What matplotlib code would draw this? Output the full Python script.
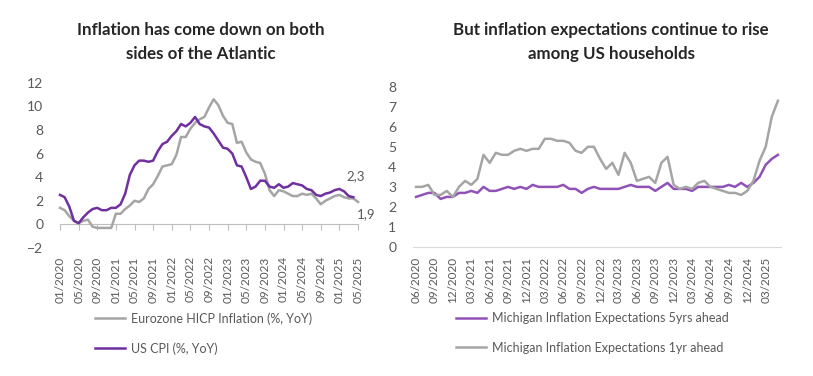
import matplotlib.pyplot as plt

plt.rcParams['font.family'] = ['Lato', 'DejaVu Sans']

# Left chart: monthly, 01/2020 .. 05/2025
eurozone_hicp = [
    1.4, 1.2, 0.7, 0.3, 0.1, 0.3, 0.4, -0.2, -0.3, -0.3, -0.3, -0.3,
    0.9, 0.9, 1.3, 1.6, 2.0, 1.9, 2.2, 3.0, 3.4, 4.1, 4.9, 5.0,
    5.1, 5.9, 7.4, 7.4, 8.1, 8.6, 8.9, 9.1, 9.9, 10.6, 10.1, 9.2,
    8.6, 8.5, 6.9, 7.0, 6.1, 5.5, 5.3, 5.2, 4.3, 2.9, 2.4, 2.9,
    2.8, 2.6, 2.4, 2.4, 2.6, 2.5, 2.6, 2.2, 1.7, 2.0, 2.2, 2.4,
    2.5, 2.3, 2.2, 2.2, 1.9,
]
us_cpi = [
    2.5, 2.3, 1.5, 0.3, 0.1, 0.6, 1.0, 1.3, 1.4, 1.2, 1.2, 1.4,
    1.4, 1.7, 2.6, 4.2, 5.0, 5.4, 5.4, 5.3, 5.4, 6.2, 6.8, 7.0,
    7.5, 7.9, 8.5, 8.3, 8.6, 9.1, 8.5, 8.3, 8.2, 7.7, 7.1, 6.5,
    6.4, 6.0, 5.0, 4.9, 4.0, 3.0, 3.2, 3.7, 3.7, 3.2, 3.1, 3.4,
    3.1, 3.2, 3.5, 3.4, 3.3, 3.0, 2.9, 2.5, 2.4, 2.6, 2.7, 2.9,
    3.0, 2.8, 2.4, 2.3,
]
left_ticks = ["01/2020", "05/2020", "09/2020", "01/2021", "05/2021", "09/2021",
              "01/2022", "05/2022", "09/2022", "01/2023", "05/2023", "09/2023",
              "01/2024", "05/2024", "09/2024", "01/2025", "05/2025"]

# Right chart: monthly, 06/2020 .. 05/2025
mich_5yr = [
    2.5, 2.6, 2.7, 2.7, 2.4, 2.5, 2.5,
    2.7, 2.7, 2.8, 2.7, 3.0, 2.8, 2.8, 2.9, 3.0, 2.9, 3.0, 2.9,
    3.1, 3.0, 3.0, 3.0, 3.0, 3.1, 2.9, 2.9, 2.7, 2.9, 3.0, 2.9,
    2.9, 2.9, 2.9, 3.0, 3.1, 3.0, 3.0, 3.0, 2.8, 3.0, 3.2, 2.9,
    2.9, 2.9, 2.8, 3.0, 3.0, 3.0, 3.0, 3.0, 3.1, 3.0, 3.2, 3.0,
    3.2, 3.5, 4.1, 4.4, 4.6,
]
mich_1yr = [
    3.0, 3.0, 3.1, 2.6, 2.6, 2.8, 2.5,
    3.0, 3.3, 3.1, 3.4, 4.6, 4.2, 4.7, 4.6, 4.6, 4.8, 4.9, 4.8,
    4.9, 4.9, 5.4, 5.4, 5.3, 5.3, 5.2, 4.8, 4.7, 5.0, 5.0, 4.4,
    3.9, 4.2, 3.6, 4.7, 4.2, 3.3, 3.4, 3.5, 3.2, 4.2, 4.5, 3.1,
    2.9, 3.0, 2.9, 3.2, 3.3, 3.0, 2.9, 2.8, 2.7, 2.7, 2.6, 2.8,
    3.3, 4.3, 5.0, 6.5, 7.3,
]
right_ticks = ["06/2020", "09/2020", "12/2020", "03/2021", "06/2021", "09/2021",
               "12/2021", "03/2022", "06/2022", "09/2022", "12/2022", "03/2023",
               "06/2023", "09/2023", "12/2023", "03/2024", "06/2024", "09/2024",
               "12/2024", "03/2025"]

GRAY = '#A5A5A5'
TXT = '#595959'
W, H = 813, 376

fig = plt.figure(figsize=(8.13, 3.76), dpi=100)

# ---- left chart
ax1 = fig.add_axes([60 / W, 1 - 248 / H, 298 / W, 165.3 / H])
ax1.plot(range(len(eurozone_hicp)), eurozone_hicp, color=GRAY, lw=1.8,
         label='Eurozone HICP Inflation (%, YoY)', clip_on=False)
ax1.plot(range(len(us_cpi)), us_cpi, color='#7030A0', lw=1.8,
         label='US CPI (%, YoY)', clip_on=False)
ax1.set_xlim(0, 64)
ax1.set_ylim(-2, 12)
ax1.set_yticks(range(-2, 13, 2))
ax1.set_xticks(range(0, 65, 4))
ax1.set_xticklabels(left_ticks, rotation=90)
ax1.tick_params(axis='x', length=0, pad=6, labelsize=8.5, labelcolor=TXT)
ax1.tick_params(axis='y', length=0, pad=12, labelsize=10, labelcolor=TXT)
for s in ax1.spines.values():
    s.set_visible(False)
zero_axis = ax1.secondary_xaxis(2 / 14)
zero_axis.set_xticks(range(0, 65, 4))
zero_axis.set_xticklabels([])
zero_axis.tick_params(length=4, color='#BFBFBF', width=0.8)
zero_axis.spines['bottom'].set_color('#BFBFBF')
ax1.annotate('2,3', (len(us_cpi) - 1, us_cpi[-1]), xytext=(-5, 12),
             textcoords='offset points', color=TXT, fontsize=9.5)
ax1.annotate('1,9', (len(eurozone_hicp) - 1, eurozone_hicp[-1]), xytext=(-1, -12),
             textcoords='offset points', color=TXT, fontsize=9.5)
fig.text(201 / W, 1 - 42 / H, "Inflation has come down on both\nsides of the Atlantic",
         ha='center', va='center', fontsize=12.2, fontweight='bold',
         color='#262626', linespacing=1.6)
ax1.legend(loc='upper left', bbox_to_anchor=(95 / W, 1 - 312 / H),
           bbox_transform=fig.transFigure, frameon=False, fontsize=9,
           labelcolor=TXT, handlelength=2.4, labelspacing=1.4,
           borderaxespad=0, borderpad=0, handletextpad=0.5)

# ---- right chart
ax2 = fig.add_axes([413 / W, 1 - 247 / H, 368 / W, 160.3 / H])
ax2.plot(range(len(mich_5yr)), mich_5yr, color='#9152B7', lw=1.8,
         label='Michigan Inflation Expectations 5yrs ahead')
ax2.plot(range(len(mich_1yr)), mich_1yr, color=GRAY, lw=1.8,
         label='Michigan Inflation Expectations 1yr ahead')
ax2.set_xlim(-0.5, 59.5)
ax2.set_ylim(0, 8)
ax2.set_yticks(range(0, 9))
ax2.set_xticks(range(0, 60, 3))
ax2.set_xticklabels(right_ticks, rotation=90)
ax2.tick_params(axis='x', length=0, pad=7, labelsize=8.5, labelcolor=TXT)
ax2.tick_params(axis='y', length=0, pad=12, labelsize=10, labelcolor=TXT)
for k in ('top', 'right', 'left'):
    ax2.spines[k].set_visible(False)
ax2.spines['bottom'].set_color('#D9D9D9')
fig.text(611 / W, 1 - 42 / H, "But inflation expectations continue to rise\namong US households",
         ha='center', va='center', fontsize=12.2, fontweight='bold',
         color='#262626', linespacing=1.6)
ax2.legend(loc='upper left', bbox_to_anchor=(456 / W, 1 - 312 / H),
           bbox_transform=fig.transFigure, frameon=False, fontsize=9,
           labelcolor=TXT, handlelength=2.4, labelspacing=1.4,
           borderaxespad=0, borderpad=0, handletextpad=0.5)

fig.savefig('out.png', dpi=100)
